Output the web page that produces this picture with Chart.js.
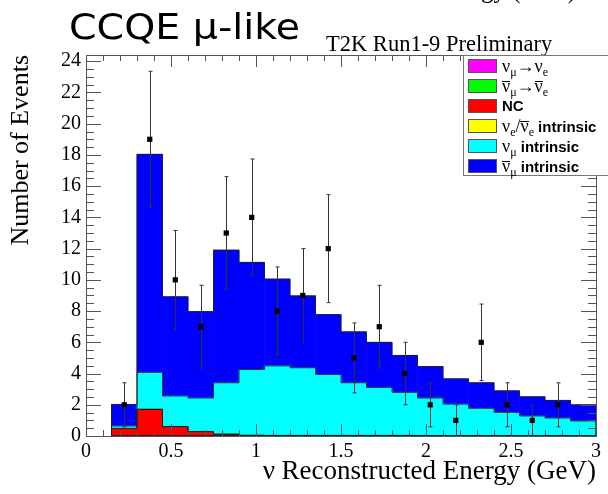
<!DOCTYPE html>
<html>
<head>
<meta charset="utf-8">
<script src="https://cdn.jsdelivr.net/npm/chart.js@4.4.1/dist/chart.umd.min.js"></script>
<style>
    html, body { margin: 0; padding: 0; background: #fff; }
    #wrap { position: relative; width: 608px; height: 494px; overflow: hidden; }
    #legend {
        position: absolute; left: 463px; top: 55px; width: 160px; height: 121px;
        background: #fff; border: 1px solid #777; box-sizing: border-box;
    }
    .row { position: absolute; left: 4px; height: 20px; white-space: nowrap; }
    .sw { position: absolute; left: 0; top: 3px; width: 29px; height: 14px; border: 1px solid #555; box-sizing: border-box; }
    .lab { position: absolute; left: 34px; top: 0; line-height: 20px; font-family: 'Liberation Sans', Arial, sans-serif; font-size: 15px; font-weight: bold; color: #000; }
    .nu { font-family: 'Liberation Serif', serif; font-weight: normal; font-size: 18px; }
    .bar { display: inline-block; line-height: 9px; border-top: 1px solid #000; }
    sub { font-size: 12px; line-height: 0; vertical-align: -4px; }
</style>
</head>
<body>
<div id="wrap">
    <canvas id="ccqeChart" width="608" height="494"></canvas>
    <div id="legend"></div>
</div>
<script>
// Bins de 0.15 GeV (centros)
const binCenters = [0.225, 0.375, 0.525, 0.675, 0.825, 0.975, 1.125, 1.275, 1.425, 1.575,
                    1.725, 1.875, 2.025, 2.175, 2.325, 2.475, 2.625, 2.775, 2.925];

// Contribuciones de cada componente (eventos por bin)
const numuToNue = [0.01, 0.02, 0.02, 0.02, 0.02, 0.02, 0.02, 0.02, 0.02, 0.02,
                   0.02, 0.02, 0.01, 0.01, 0.01, 0.01, 0.01, 0.01, 0.00];
const numubarToNuebar = [0.02, 0.02, 0.01, 0.01, 0.01, 0.00, 0.00, 0.00, 0.00, 0.00,
                         0.00, 0.00, 0.00, 0.00, 0.00, 0.00, 0.00, 0.00, 0.00];
const ncEvents = [0.44, 1.66, 0.57, 0.25, 0.08, 0.02, 0.01, 0.01, 0.01, 0.01,
                  0.01, 0.01, 0.01, 0.01, 0.01, 0.01, 0.00, 0.00, 0.00];
const nueIntrinsic = [0.02, 0.02, 0.01, 0.01, 0.01, 0.01, 0.01, 0.01, 0.01, 0.01,
                      0.01, 0.01, 0.01, 0.01, 0.01, 0.01, 0.01, 0.01, 0.01];
const numuIntrinsic = [0.15, 2.35, 1.95, 2.14, 3.29, 4.21, 4.45, 4.33, 3.90, 3.37,
                       3.07, 2.75, 2.40, 2.01, 1.74, 1.48, 1.26, 1.13, 0.95];
const numubarIntrinsic = [1.38, 13.97, 6.36, 5.54, 8.49, 6.86, 5.56, 4.60, 3.83, 3.26,
                          2.89, 2.37, 2.02, 1.62, 1.64, 1.38, 1.23, 1.13, 1.04];

// Datos observados y sus barras de error
const dataX = [0.225, 0.375, 0.525, 0.675, 0.825, 0.975, 1.125, 1.275, 1.425,
               1.575, 1.725, 1.875, 2.025, 2.175, 2.325, 2.475, 2.625, 2.775];
const dataY = [2, 19, 10, 7, 13, 14, 8, 9, 12, 5, 7, 4, 2, 1, 6, 2, 1, 2];
const dataErr = [1.41, 4.36, 3.16, 2.65, 3.61, 3.74, 2.83, 3.00, 3.46,
                 2.24, 2.65, 2.00, 1.41, 1.00, 2.45, 1.41, 1.00, 1.41];

// Ejes
const xTickLabels = ['0', '0.5', '1', '1.5', '2', '2.5', '3'];
const yTickLabels = ['0', '2', '4', '6', '8', '10', '12', '14', '16', '18', '20', '22', '24'];

const stackNames = ['nu_mu->nu_e', 'nubar_mu->nubar_e', 'NC', 'nu_e intrinsic', 'nu_mu intrinsic', 'nubar_mu intrinsic'];
const stackColors = ['#ff00ff', '#00ff00', '#ff0000', '#ffff00', '#00ffff', '#0000ff'];
const legendHtml = [
    '<span class="nu">ν<sub>μ</sub>→ν<sub>e</sub></span>',
    '<span class="nu"><span class="bar">ν</span><sub>μ</sub>→<span class="bar">ν</span><sub>e</sub></span>',
    'NC',
    '<span class="nu">ν<sub>e</sub>/<span class="bar">ν</span><sub>e</sub></span> intrinsic',
    '<span class="nu">ν<sub>μ</sub></span> intrinsic',
    '<span class="nu"><span class="bar">ν</span><sub>μ</sub></span> intrinsic'
];

document.addEventListener('DOMContentLoaded', function () {
    buildLegend();
    initChart();
});

function buildLegend() {
    const box = document.getElementById('legend');
    stackNames.forEach((name, i) => {
        const row = document.createElement('div');
        row.className = 'row';
        row.style.top = (0 + 20 * i) + 'px';
        row.innerHTML = '<div class="sw" style="background:' + stackColors[i] + '"></div>' +
            '<div class="lab">' + legendHtml[i] + '</div>';
        box.appendChild(row);
    });
}

/**
 * Contorno escalonado de cada histograma apilado + barras de error.
 */
const rootStylePlugin = {
    id: 'rootStyle',
    beforeDatasetDraw(chart, args) {
        if (args.index !== 0) return;
        const { ctx } = chart;
        const yScale = chart.scales.y;
        const zero = yScale.getPixelForValue(0);

        // contornos
        ctx.save();
        ctx.strokeStyle = 'rgba(30,30,30,0.85)';
        ctx.lineWidth = 1;
        chart.data.datasets.forEach((ds, di) => {
            if (ds.type !== 'bar') return;
            const els = chart.getDatasetMeta(di).data;
            ctx.beginPath();
            els.forEach((el, i) => {
                const l = el.x - el.width / 2, r = el.x + el.width / 2;
                if (i === 0) { ctx.moveTo(l, zero); }
                ctx.lineTo(l, el.y);
                ctx.lineTo(r, el.y);
                if (i === els.length - 1) ctx.lineTo(r, zero);
            });
            ctx.stroke();
        });

        // barras de error
        ctx.strokeStyle = '#333';
        const pts = chart.getDatasetMeta(0).data;
        pts.forEach((pt, i) => {
            const yTop = yScale.getPixelForValue(dataY[i] + dataErr[i]);
            const yBot = yScale.getPixelForValue(Math.max(0, dataY[i] - dataErr[i]));
            const x = Math.round(pt.x) + 0.5;
            ctx.beginPath();
            ctx.moveTo(x, yTop); ctx.lineTo(x, yBot);
            ctx.moveTo(x - 2, yTop); ctx.lineTo(x + 2, yTop);
            ctx.moveTo(x - 2, yBot); ctx.lineTo(x + 2, yBot);
            ctx.stroke();
        });
        ctx.restore();
    },
    afterDraw(chart) {
        const { ctx, chartArea: { left, right, top, bottom } } = chart;
        const xs = chart.scales.x, ys = chart.scales.y;
        ctx.save();
        ctx.strokeStyle = '#555';
        ctx.lineWidth = 1;
        ctx.beginPath();
        // marcas eje X (abajo y arriba)
        for (let k = 0; k <= 30; k++) {
            const px = Math.round(xs.getPixelForValue(k / 10)) + 0.5;
            const major = k % 5 === 0;
            ctx.moveTo(px, bottom); ctx.lineTo(px, bottom - (major ? 12 : 6));
            ctx.moveTo(px, top); ctx.lineTo(px, top + (major ? 12 : 6));
        }
        // marcas eje Y (izquierda y derecha)
        for (let k = 0; k <= 48; k++) {
            const py = Math.round(ys.getPixelForValue(k / 2)) + 0.5;
            const major = k % 4 === 0;
            ctx.moveTo(left, py); ctx.lineTo(left + (major ? 15 : 8), py);
            ctx.moveTo(right, py); ctx.lineTo(right - (major ? 15 : 8), py);
        }
        ctx.stroke();
        ctx.strokeRect(Math.round(left) + 0.5, Math.round(top) + 0.5,
                       Math.round(right - left), Math.round(bottom - top));

        // títulos
        ctx.fillStyle = '#000';
        ctx.textBaseline = 'alphabetic';
        ctx.textAlign = 'left';
        ctx.font = '36px "DejaVu Sans"';
        const title = 'CCQE μ-like';
        const tw = ctx.measureText(title).width;
        ctx.save();
        ctx.translate(69, 39);
        ctx.scale(231 / tw, 1);
        ctx.fillText(title, 0, 0);
        ctx.restore();
        ctx.font = '22.5px "Liberation Serif"';
        ctx.fillText('T2K Run1-9 Preliminary', 326, 51);
        ctx.textAlign = 'right';
        ctx.font = '25px "Liberation Serif"';
        ctx.fillText('ν Reconstructed Energy (GeV)', 576, -2);
        ctx.restore();
    }
};

function initChart() {
    const ctx = document.getElementById('ccqeChart');
    const stacks = [numuToNue, numubarToNuebar, ncEvents, nueIntrinsic, numuIntrinsic, numubarIntrinsic];

    const barSets = stacks.map((vals, i) => ({
        type: 'bar',
        label: stackNames[i],
        data: binCenters.map((x, j) => ({ x: x, y: vals[j] })),
        backgroundColor: stackColors[i],
        borderWidth: 0,
        barPercentage: 1.0,
        categoryPercentage: 1.0,
        order: 10 + i
    }));

    new Chart(ctx, {
        type: 'bar',
        data: {
            datasets: [{
                type: 'scatter',
                label: 'Data',
                data: dataX.map((x, j) => ({ x: x, y: dataY[j] })),
                backgroundColor: '#000',
                borderColor: '#000',
                pointStyle: 'rect',
                pointRadius: 3.7,
                borderWidth: 0,
                order: 0
            }].concat(barSets)
        },
        options: {
            responsive: false,
            animation: false,
            layout: { padding: { top: 55, right: 12, left: 0, bottom: 0 } },
            plugins: {
                legend: { display: false },
                tooltip: { enabled: false }
            },
            scales: {
                x: {
                    type: 'linear',
                    min: 0, max: 3,
                    stacked: true,
                    offset: false,
                    grid: { display: false, drawTicks: false, offset: false },
                    border: { display: false },
                    ticks: {
                        stepSize: 0.5,
                        autoSkip: false,
                        maxRotation: 0,
                        padding: 4,
                        color: '#000',
                        font: { family: 'Liberation Serif', size: 20 },
                        callback: (v) => xTickLabels[Math.round(v * 2)]
                    },
                    title: {
                        display: true,
                        text: 'ν Reconstructed Energy (GeV)',
                        align: 'end',
                        color: '#000',
                        font: { family: 'Liberation Serif', size: 27 },
                        padding: { top: 0, bottom: 6 }
                    },
                    afterFit: (s) => { s.height = 58; }
                },
                y: {
                    min: 0, max: 24.4,
                    stacked: true,
                    grid: { display: false, drawTicks: false },
                    border: { display: false },
                    ticks: {
                        stepSize: 2,
                        includeBounds: false,
                        padding: 5,
                        color: '#000',
                        font: { family: 'Liberation Serif', size: 20 },
                        callback: (v) => yTickLabels[Math.round(v / 2)]
                    },
                    title: {
                        display: true,
                        text: 'Number of Events',
                        align: 'end',
                        color: '#000',
                        font: { family: 'Liberation Serif', size: 26 },
                        padding: { top: 6, bottom: 0 }
                    },
                    afterFit: (s) => { s.width = 86; }
                }
            }
        },
        plugins: [rootStylePlugin]
    });
}
</script>
</body>
</html>
